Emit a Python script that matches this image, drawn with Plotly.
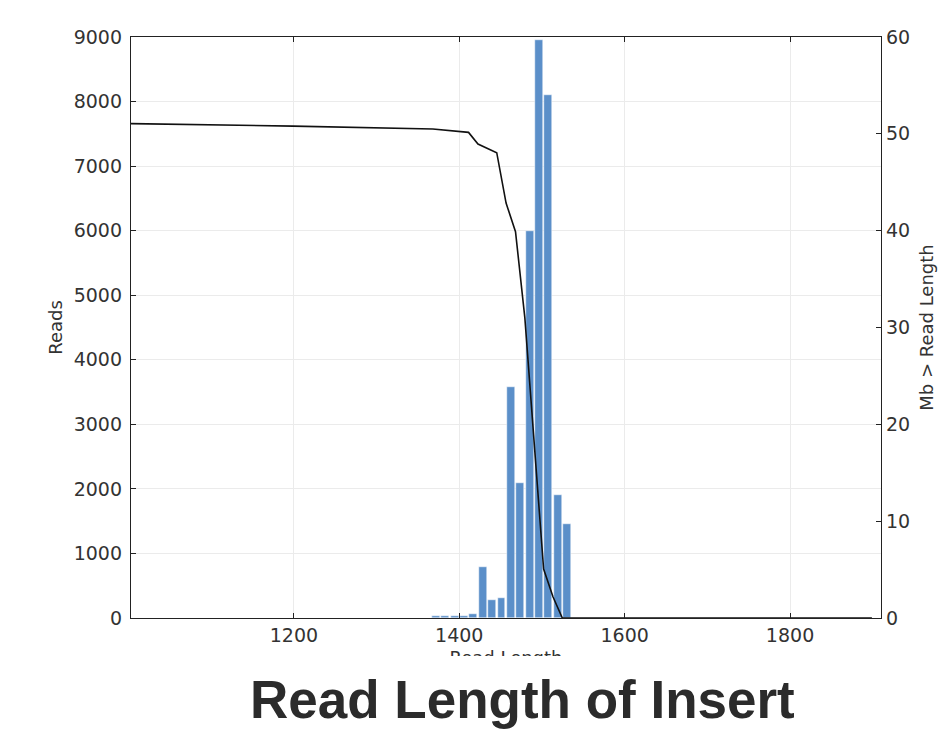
import plotly.graph_objects as go

# ---- data ----
bin_width = 11.34
bar_centers = [1371.6, 1382.9, 1394.3, 1405.6, 1417.0, 1428.3, 1439.6, 1451.0,
               1462.3, 1473.7, 1485.0, 1496.4, 1507.7, 1519.0, 1530.4]
bar_reads = [30, 32, 32, 34, 55, 785, 283, 310, 3575, 2090, 6000, 8960, 8100, 1905, 1455]

line_x = [1003, 1199, 1368, 1411.2, 1422.6, 1433.9, 1445.3, 1456.6, 1468.0,
          1479.3, 1490.6, 1502.0, 1513.3, 1524.6, 1899]
line_mb = [51.05, 50.8, 50.5, 50.15, 48.95, 48.5, 48.05, 42.85, 39.9,
           31.0, 17.6, 5.05, 2.2, 0.0, 0.0]

x_ticks = [1200, 1400, 1600, 1800]
x_range = [1003, 1910]
reads_range = [0, 9000]
mb_range = [0, 60]

# ---- figure (page has an 8px body margin, so the figure is 8px smaller) ----
OFF = 8
PAGE_W, PAGE_H = 948, 729
W, H = PAGE_W - OFF, PAGE_H - OFF
PL, PT, PR, PB = 131, 37, 881, 618          # plot box in page pixels
L, T, R, B = PL - OFF, PT - OFF, PAGE_W - PR, PAGE_H - PB
plot_h = PB - PT
plot_w = PR - PL

def py_to_paper(py):
    return (PB - py) / plot_h

def px_to_paper(px):
    return (px - PL) / plot_w

fig = go.Figure()
fig.add_trace(go.Bar(
    x=bar_centers, y=bar_reads, width=[bin_width * 0.84] * len(bar_centers),
    marker=dict(color="#5b8fc9", line=dict(color="#ffffff", width=0.5)),
    yaxis="y", showlegend=False,
))
fig.add_trace(go.Scatter(
    x=line_x, y=line_mb, mode="lines", yaxis="y2",
    line=dict(color="#111111", width=1.6), showlegend=False,
))

tick_font = dict(family="DejaVu Sans", size=19, color="#333333")
title_font = dict(family="DejaVu Sans", size=18, color="#333333")
fig.update_layout(
    width=W, height=H,
    margin=dict(l=L, r=R, t=T, b=B, autoexpand=False),
    paper_bgcolor="white", plot_bgcolor="white",
    bargap=0,
    xaxis=dict(
        range=x_range, tickvals=x_ticks, ticks="inside", ticklen=5,
        tickcolor="#222222", showline=True, linecolor="#222222", linewidth=1.3,
        mirror="ticks", showgrid=True, gridcolor="#ebebeb", gridwidth=1,
        zeroline=False, tickfont=tick_font,
        title=dict(text="Read Length", font=title_font, standoff=6),
    ),
    yaxis=dict(
        range=reads_range, dtick=1000, ticks="inside", ticklen=5,
        tickcolor="#222222", showline=True, linecolor="#222222", linewidth=1.3,
        showgrid=True, gridcolor="#ebebeb", gridwidth=1, zeroline=False,
        tickfont=tick_font, ticklabelstandoff=4,
        title=dict(text="Reads", font=title_font, standoff=6),
    ),
    yaxis2=dict(
        range=mb_range, dtick=10, overlaying="y", side="right",
        ticks="inside", ticklen=5, tickcolor="#222222",
        showline=True, linecolor="#222222", linewidth=1.3,
        showgrid=False, zeroline=False, tickfont=tick_font,
        title=dict(text="Mb > Read Length", font=title_font, standoff=11),
    ),
    annotations=[
        # white band that clips the lower part of the x-axis title (as in the cropped reference)
        dict(text=" ", xref="paper", yref="paper", x=0.5, y=py_to_paper(656),
             xanchor="center", yanchor="top", width=400, height=90,
             bgcolor="white", showarrow=False, borderpad=0, borderwidth=0),
        dict(text="<b>Read Length of Insert</b>", xref="paper", yref="paper",
             x=px_to_paper(522), y=py_to_paper(699),
             xanchor="center", yanchor="middle", showarrow=False,
             font=dict(family="Liberation Sans", size=53, color="#2b2b2b")),
    ],
)

fig.write_html("out.html")
